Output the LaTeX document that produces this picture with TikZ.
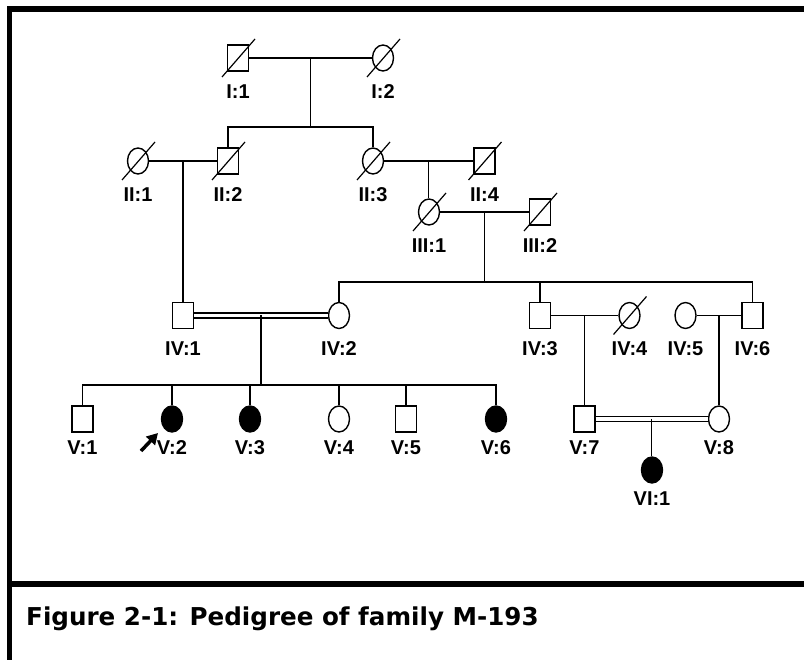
\documentclass[tikz,border=0pt]{standalone}
\usepackage{fontspec}
\setmainfont{Liberation Sans}
\newfontfamily\capfont{DejaVu Sans}
\usepackage{tikz}
\usetikzlibrary{arrows.meta,positioning,shapes.geometric}

\begin{document}
\begin{tikzpicture}[
    x=1pt, y=-1pt,
    male/.style={draw, rectangle, line width=1.4pt, minimum width=21pt, minimum height=26pt, inner sep=0pt},
    female/.style={draw, ellipse, line width=1.4pt, minimum width=21pt, minimum height=26pt, inner sep=0pt},
    hit/.style={fill=black},
    lbl/.style={inner sep=0pt, font=\fontsize{20}{23}\selectfont\bfseries},
    rel/.style={line width=1.4pt},
    cons/.style={double, double distance=3.6pt, line width=1.4pt},
    >=Stealth
]
\useasboundingbox (0,0) rectangle (804,660);

% frame and caption bar
\draw[line width=5.5pt, line join=miter] (9.5,660) -- (9.5,9) -- (804,9);
\draw[line width=6pt] (9.5,584) -- (804,584);
\node[anchor=base west, inner sep=0pt, font=\capfont\fontsize{24.6}{29}\selectfont\bfseries] (cap) at (26,625) {Figure 2-1: Pedigree of family M-193};

% generation I
\node[male] (i1) at (238,58) {};
\node[female] (i2) at (383,58) {};
% generation II
\node[female] (ii1) at (138,161) {};
\node[male] (ii2) at (228,161) {};
\node[female] (ii3) at (373,161) {};
\node[male] (ii4) at (484.5,161) {};
% generation III
\node[female] (iii1) at (429,212) {};
\node[male] (iii2) at (540,212) {};
% generation IV
\node[male] (iv1) at (183,315.5) {};
\node[female] (iv2) at (339,315.5) {};
\node[male] (iv3) at (540,315.5) {};
\node[female] (iv4) at (629.5,315.5) {};
\node[female] (iv5) at (685.5,315.5) {};
\node[male] (iv6) at (752.5,315.5) {};
% generation V
\node[male] (v1) at (82.5,419) {};
\node[female, hit] (v2) at (172,419) {};
\node[female, hit] (v3) at (250,419) {};
\node[female] (v4) at (339,419) {};
\node[male] (v5) at (406,419) {};
\node[female, hit] (v6) at (496,419) {};
\node[male] (v7) at (584.5,419) {};
\node[female] (v8) at (719,419) {};
% generation VI
\node[female, hit] (vi1) at (652,470) {};

% labels
\foreach \n/\t in {i1/I:1, i2/I:2, ii1/II:1, ii2/II:2, ii3/II:3, ii4/II:4,
    iii1/III:1, iii2/III:2, iv1/IV:1, iv2/IV:2, iv3/IV:3, iv4/IV:4, iv5/IV:5, iv6/IV:6}
  \node[lbl, below=12.5pt of \n] (\n-l) {\t};
\foreach \n/\t in {v1/V:1, v2/V:2, v3/V:3, v4/V:4, v5/V:5, v6/V:6, v7/V:7, v8/V:8, vi1/VI:1}
  \node[lbl, below=8pt of \n] (\n-l) {\t};

% deceased
\foreach \n in {i1, i2, ii1, ii2, ii3, ii4, iii1, iii2, iv4}
  \draw[line width=1.2pt] (\n) ++(-16,19) -- ++(33,-38);

% matings
\draw[rel] (i1) -- coordinate[midway] (m1) (i2);
\draw[rel] (ii1) -- coordinate[midway] (m2) (ii2);
\draw[rel] (ii3) -- coordinate[midway] (m3) (ii4);
\draw[rel] (iii1) -- coordinate[midway] (m4) (iii2);
\draw[cons] (iv1) -- coordinate[midway] (m5) (iv2);
\draw[rel] (iv3) -- coordinate[midway] (m6) (iv4);
\draw[rel] (iv5) -- coordinate[midway] (m7) (iv6);
\draw[cons] (v7) -- coordinate[midway] (m8) (v8);

% lines of descent
\path (m1) ++(0,69) coordinate (s1);
\path (m4) ++(0,70) coordinate (s4);
\path (m5) ++(0,69.5) coordinate (s5);
\draw[rel] (m1) -- (s1);
\draw[rel] (ii2) |- (s1) -| (ii3);
\draw[rel] (m2) -- (m2 |- iv1.north);
\draw[rel] (m3) -- (m3 |- iii1.north);
\draw[rel] (m4) -- (s4);
\draw[rel] (iv2) |- (s4) -| (iv6);
\draw[rel] (iv3) -- (iv3 |- s4);
\draw[rel] (m5) -- (s5);
\draw[rel] (v1) |- (s5) -| (v6);
\foreach \n in {v2, v3, v4, v5}
  \draw[rel] (\n) -- (\n |- s5);
\draw[rel] (m6) -- (m6 |- v7.north);
\draw[rel] (m7) -- (m7 |- v8.north);
\draw[rel] (m8) -- (m8 |- vi1.north);

% proband
\coordinate (pb) at (141,451);
\coordinate (pbtip) at (158,433);
\draw[line width=3.5pt, -{Triangle[length=11pt, width=12pt]}] (pb) -- (pbtip);

\end{tikzpicture}
\end{document}
